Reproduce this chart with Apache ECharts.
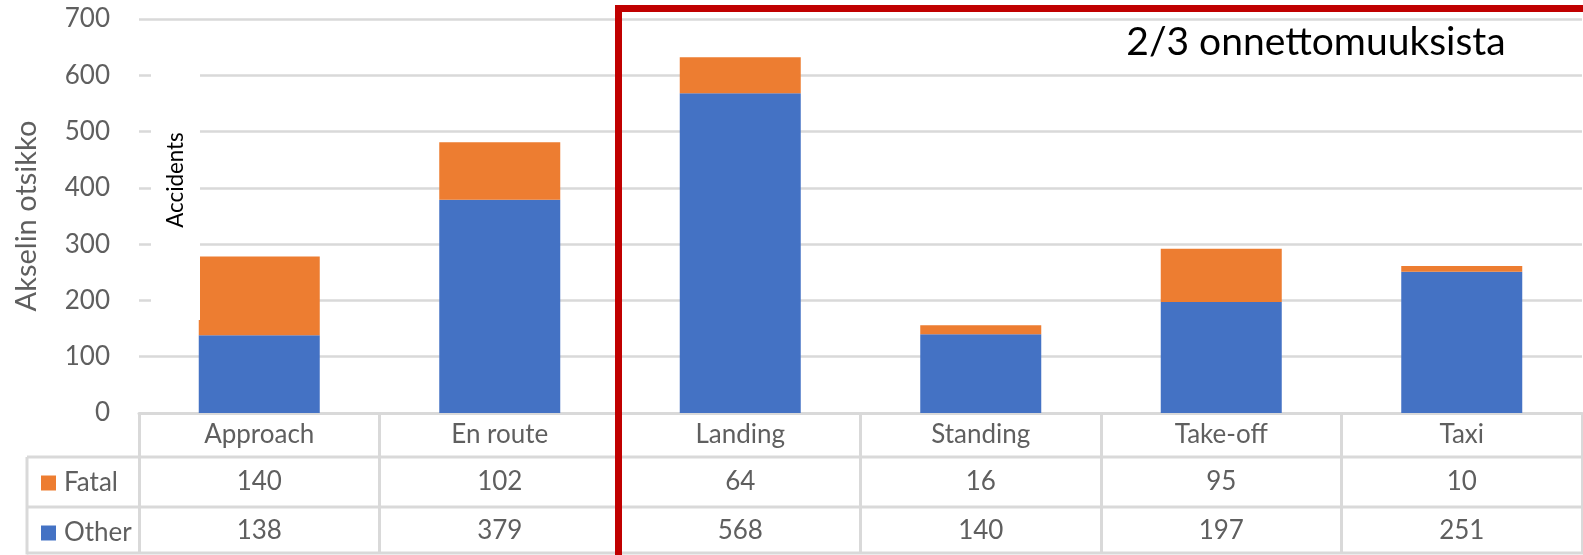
<!DOCTYPE html>
<html>
<head>
<meta charset="utf-8">
<script src="https://cdn.jsdelivr.net/npm/echarts@6/dist/echarts.min.js"></script>
<style>
  html, body { margin: 0; padding: 0; background: #ffffff; }
  #chart { width: 1583px; height: 555px; }
</style>
</head>
<body>
<div id="chart"></div>
<script>
// Accident counts per flight phase
const categories = ['Approach', 'En route', 'Landing', 'Standing', 'Take-off', 'Taxi'];
const fatal = [140, 102, 64, 16, 95, 10];
const other = [138, 379, 568, 140, 197, 251];
const yTicks = { min: 0, max: 700, step: 100 };

const FONT = 'Lato';
const WEIGHT = 400;
const GRAY = '#5f5f5f';
const LINE = '#d9d9d9';

const gridLeft = 139, gridRight = 1582, gridTop = 19, gridBottom = 413;
const rowFatal = 457, rowOther = 507, tableBottom = 553, legendLeft = 27;

const chart = echarts.init(document.getElementById('chart'), null, { renderer: 'canvas' });

function tableAxis(offset, margin, values) {
  return {
    type: 'category',
    data: categories,
    position: 'bottom',
    offset: offset,
    axisLine: { show: false },
    axisTick: { show: false },
    axisLabel: {
      interval: 0,
      margin: margin,
      verticalAlign: 'middle',
      fontFamily: FONT,
      fontWeight: WEIGHT,
      fontSize: 26,
      color: GRAY,
      formatter: (v, i) => String(values[i])
    }
  };
}

const hLine = (x1, x2, y) => ({
  type: 'line', z: 50,
  shape: { x1: x1, y1: y, x2: x2, y2: y },
  style: { stroke: LINE, lineWidth: 3 }
});

chart.setOption({
  animation: false,
  grid: { left: gridLeft, right: 1583 - gridRight, top: gridTop, bottom: 555 - gridBottom },
  legend: {
    orient: 'vertical',
    left: 36,
    top: 465,
    icon: 'rect',
    itemWidth: 15,
    itemHeight: 15,
    itemGap: 24,
    data: ['Fatal', 'Other'],
    textStyle: { fontFamily: FONT, fontWeight: WEIGHT, fontSize: 26, color: GRAY, lineHeight: 26, padding: [0, 0, 0, 3] }
  },
  xAxis: [
    {
      type: 'category',
      data: categories,
      position: 'bottom',
      axisLine: { show: true, lineStyle: { color: LINE, width: 3 } },
      axisTick: { show: true, interval: 0, length: tableBottom - gridBottom + 1, lineStyle: { color: LINE, width: 3 } },
      axisLabel: {
        interval: 0,
        margin: 22,
        verticalAlign: 'middle',
        fontFamily: FONT,
        fontWeight: WEIGHT,
        fontSize: 26,
        color: GRAY
      }
    },
    tableAxis(rowFatal - gridBottom, 25, fatal),
    tableAxis(rowOther - gridBottom, 24, other)
  ],
  yAxis: {
    type: 'value',
    min: yTicks.min,
    max: yTicks.max,
    interval: yTicks.step,
    name: 'Akselin otsikko',
    nameLocation: 'middle',
    nameGap: 98,
    nameTextStyle: { fontFamily: FONT, fontWeight: WEIGHT, fontSize: 29, color: GRAY },
    axisLine: { show: false },
    axisTick: { show: false },
    axisLabel: { margin: 29, fontFamily: FONT, fontWeight: WEIGHT, fontSize: 26, color: GRAY },
    splitLine: { lineStyle: { color: LINE, width: 2.5 } }
  },
  series: [
    {
      name: 'Other',
      type: 'bar',
      stack: 'total',
      barWidth: 121,
      itemStyle: { color: '#4472c4' },
      data: other
    },
    {
      name: 'Fatal',
      type: 'bar',
      stack: 'total',
      barWidth: 121,
      itemStyle: { color: '#ed7d31' },
      data: fatal
    }
  ],
  graphic: [
    // data-table row rules, including the legend column
    hLine(legendLeft, gridRight + 2, rowFatal),
    hLine(legendLeft, gridRight + 2, rowOther),
    hLine(legendLeft, gridRight + 2, tableBottom),
    {
      type: 'line', z: 50,
      shape: { x1: legendLeft, y1: rowFatal, x2: legendLeft, y2: tableBottom + 1.5 },
      style: { stroke: LINE, lineWidth: 3 }
    },
    // "Accidents" label box
    {
      type: 'rect', z: 60,
      shape: { x: 151, y: 40, width: 49, height: 280 },
      style: { fill: '#ffffff' }
    },
    {
      type: 'text', z: 61,
      x: 176, y: 180, rotation: Math.PI / 2,
      scaleX: 0.97,
      style: {
        text: 'Accidents',
        fontFamily: FONT, fontSize: 23, fill: '#000000',
        align: 'center', verticalAlign: 'middle'
      }
    },
    // highlighted region
    {
      type: 'rect', z: 100,
      shape: { x: 618.5, y: 8.5, width: 1200, height: 700 },
      style: { fill: 'none', stroke: '#c00000', lineWidth: 7 }
    },
    {
      type: 'text', z: 101,
      x: 1316, y: 42,
      style: {
        text: '2/3 onnettomuuksista',
        fontFamily: FONT, fontSize: 39, fill: '#000000',
        align: 'center', verticalAlign: 'middle'
      }
    }
  ]
});
</script>
</body>
</html>
